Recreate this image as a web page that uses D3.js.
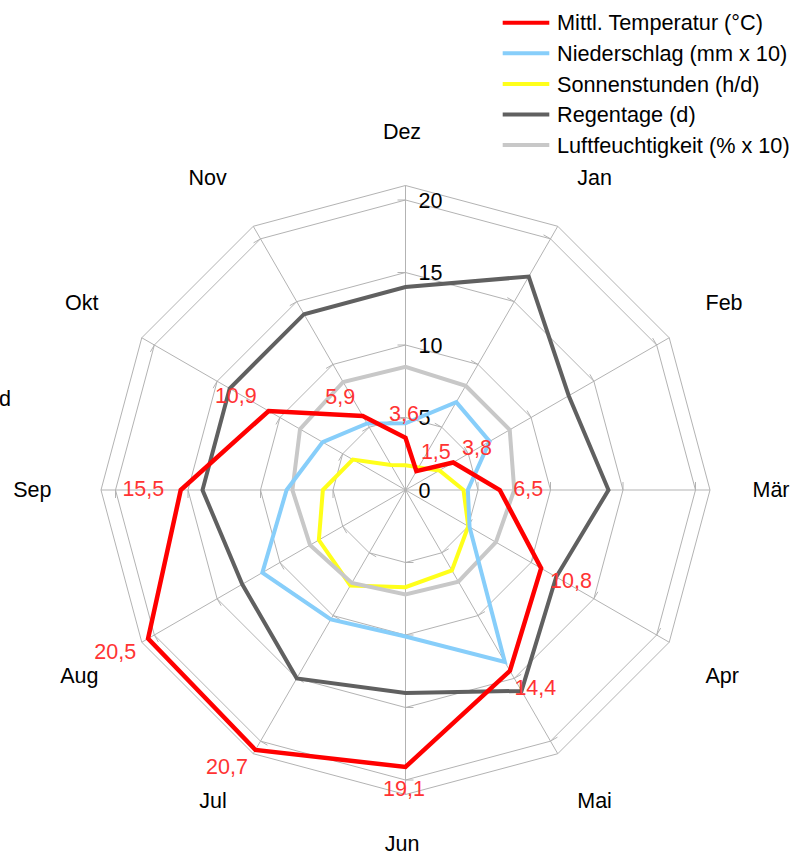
<!DOCTYPE html>
<html>
<head>
<meta charset="utf-8">
<script src="https://cdn.jsdelivr.net/npm/d3@7"></script>
<style>
  html, body { margin: 0; padding: 0; background: #fff; }
  svg { display: block; font-family: "Liberation Sans", Arial, sans-serif; }
</style>
</head>
<body>
<svg id="chart" width="803" height="856"></svg>
<script>
// Klimadaten pro Monat
const months = ["Jan", "Feb", "Mär", "Apr", "Mai", "Jun", "Jul", "Aug", "Sep", "Okt", "Nov", "Dez"];
const temperatur = [1.5, 3.8, 6.5, 10.8, 14.4, 19.1, 20.7, 20.5, 15.5, 10.9, 5.9, 3.6];
const niederschlag = [7.0, 6.7, 4.3, 5.1, 13.7, 10.1, 10.3, 11.4, 8.2, 6.6, 5.3, 4.6];
const sonnenstunden = [1.8, 2.7, 4.0, 5.0, 6.4, 6.7, 7.6, 6.9, 5.7, 4.2, 2.0, 1.7];
const regentage = [17, 13, 14, 12, 16, 14, 15, 13, 14, 14, 14, 14];
const luftfeuchtigkeit = [8.3, 8.3, 7.5, 7.2, 7.3, 7.2, 7.4, 7.6, 7.8, 8.4, 8.6, 8.5];

const seriesNames = ["Mittl. Temperatur (°C)", "Niederschlag (mm x 10)", "Sonnenstunden (h/d)", "Regentage (d)", "Luftfeuchtigkeit (% x 10)"];
const tickValues = [0, 5, 10, 15, 20];
const axisMax = 21;

const series = [
  { name: seriesNames[0], values: temperatur,       color: "#ff0000", width: 4.5, labels: true },
  { name: seriesNames[1], values: niederschlag,     color: "#87cefa", width: 4 },
  { name: seriesNames[2], values: sonnenstunden,    color: "#ffff1a", width: 4 },
  { name: seriesNames[3], values: regentage,        color: "#606060", width: 4 },
  { name: seriesNames[4], values: luftfeuchtigkeit, color: "#c8c8c8", width: 4 }
];
// stacking order of the polygons (last on top)
const drawOrder = [2, 4, 3, 1, 0];

const FS = 21.5;
const CAP = FS * 0.716;
const cx = 405.5, cy = 490;

const svg = d3.select("#chart");
const g = svg.append("g").attr("transform", `translate(${cx},${cy})`);

const r = d3.scaleLinear().domain([0, axisMax]).range([0, 304.5]);
// Dez sits at the top; Jan follows clockwise
const angle = d3.scaleLinear().domain([0, months.length]).range([0, 2 * Math.PI]);
const ang = i => angle((i + 1) % months.length);
const dir = i => [Math.sin(ang(i)), -Math.cos(ang(i))];

const gridColor = "#b3b3b3";

// rings
const ringLine = d3.lineRadial().curve(d3.curveLinearClosed);
[5, 10, 15, 20, axisMax].forEach(v => {
  g.append("path")
    .attr("d", ringLine(months.map((m, i) => [ang(i), r(v)])))
    .attr("fill", "none").attr("stroke", gridColor).attr("stroke-width", 1);
});

// spokes with tick marks
months.forEach((m, i) => {
  const [dx, dy] = dir(i);
  g.append("line")
    .attr("x1", 0).attr("y1", 0)
    .attr("x2", dx * r(axisMax)).attr("y2", dy * r(axisMax))
    .attr("stroke", gridColor).attr("stroke-width", 1);
  [5, 10, 15, 20].forEach(v => {
    const px = dx * r(v), py = dy * r(v);
    // perpendicular, towards the previous month
    const tx = dy, ty = -dx;
    g.append("line")
      .attr("x1", px).attr("y1", py)
      .attr("x2", px + tx * 8).attr("y2", py + ty * 8)
      .attr("stroke", gridColor).attr("stroke-width", 1);
  });
});

// value axis labels along the Dez spoke
tickValues.forEach(v => {
  g.append("text")
    .attr("x", 13).attr("y", -r(v) + CAP / 2)
    .attr("font-size", FS).attr("fill", "#000")
    .text(v);
});

// month labels
months.forEach((m, i) => {
  const [dx, dy] = dir(i);
  const R = r(axisMax), d = 46;
  const px = dx * R + dx * d - 3.5;
  let py = dy * R + dy * d - 1;
  if (Math.abs(dy) > 0.01 && Math.abs(dy) < 0.6) py += Math.sign(dy) * 3.5;
  if (Math.abs(dx) < 0.01 && dy > 0) py -= 3.5;
  const anchor = Math.abs(dx) < 0.01 ? "middle" : (dx > 0 ? "start" : "end");
  let by;
  if (Math.abs(dy) < 0.01) by = py + CAP / 2;
  else if (dy < 0) by = py;
  else by = py + CAP;
  g.append("text")
    .attr("x", px).attr("y", by)
    .attr("text-anchor", anchor)
    .attr("font-size", FS).attr("fill", "#000")
    .text(m);
});

// series polygons
const radial = d3.lineRadial()
  .angle((d, i) => ang(i))
  .radius(d => r(d))
  .curve(d3.curveLinearClosed);

drawOrder.forEach(k => {
  const s = series[k];
  g.append("path")
    .attr("d", radial(s.values))
    .attr("fill", "none")
    .attr("stroke", s.color)
    .attr("stroke-width", s.width)
    .attr("stroke-linejoin", "miter");
});

// value labels of the temperature series
const fmt = v => d3.format(".1f")(v).replace(".", ",");
series.filter(s => s.labels).forEach(s => {
  s.values.forEach((v, i) => {
    const [dx, dy] = dir(i);
    const axial = Math.abs(dx) < 0.01 || Math.abs(dy) < 0.01;
    const d = axial ? 15 : 12;
    const px = dx * r(v) + dx * d - 1.5, py = dy * r(v) + dy * d - 1.5;
    const anchor = Math.abs(dx) < 0.01 ? "middle" : (dx > 0 ? "start" : "end");
    let by;
    if (Math.abs(dy) < 0.01) by = py + CAP / 2;
    else if (dy < 0) by = py;
    else by = py + CAP;
    g.append("text")
      .attr("x", px).attr("y", by)
      .attr("text-anchor", anchor)
      .attr("font-size", FS).attr("fill", "#ff3333")
      .text(fmt(v));
  });
});

// legend
const legend = svg.append("g");
series.forEach((s, i) => {
  const y = 22.7 + i * 30.6;
  legend.append("line")
    .attr("x1", 502.7).attr("x2", 549.3)
    .attr("y1", y).attr("y2", y)
    .attr("stroke", s.color).attr("stroke-width", 4);
  legend.append("text")
    .attr("x", 557).attr("y", y + CAP / 2)
    .attr("font-size", 21.7).attr("fill", "#000")
    .text(s.name);
});

// caption fragment at the left border
svg.append("text")
  .attr("x", 11).attr("y", 406)
  .attr("text-anchor", "end")
  .attr("font-size", FS).attr("fill", "#000")
  .text("d");
</script>
</body>
</html>
